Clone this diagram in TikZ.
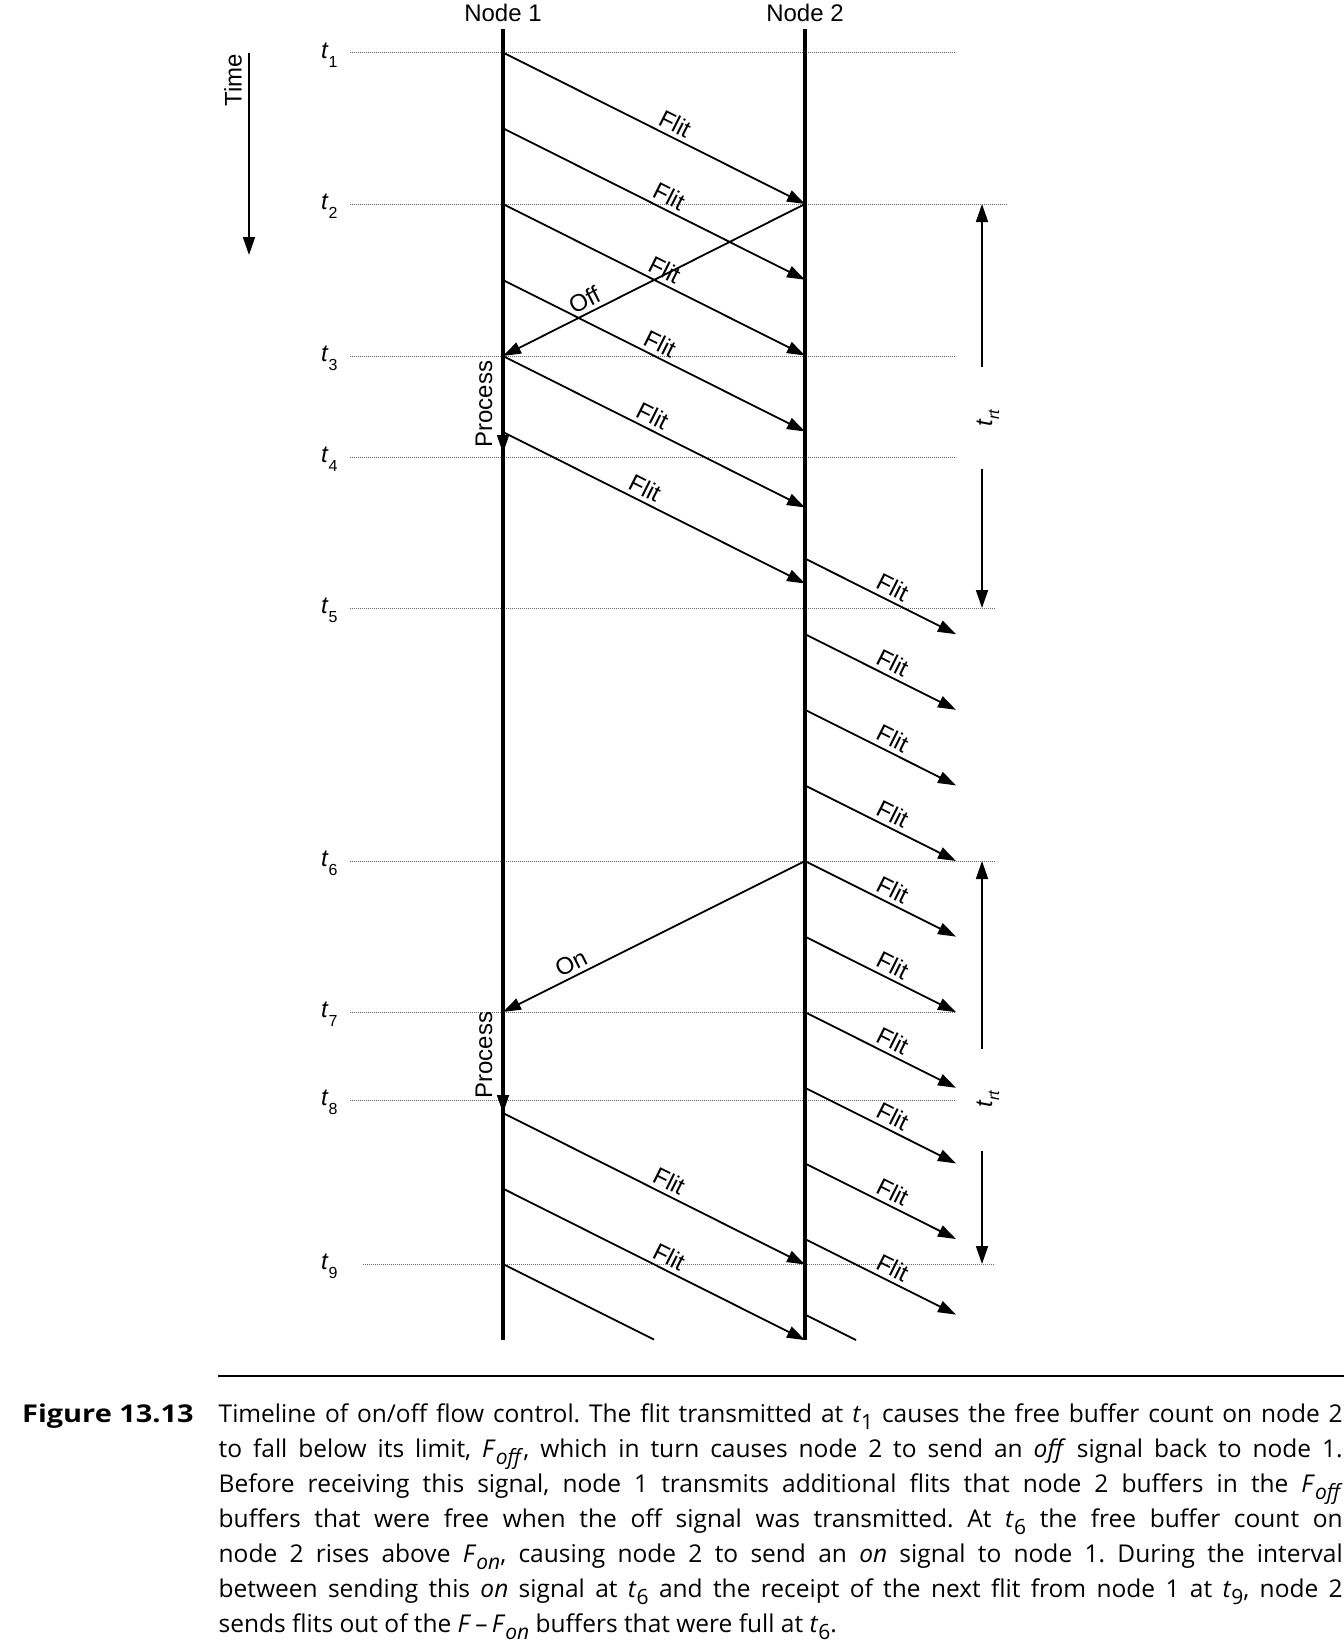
\documentclass[tikz,border=0pt]{standalone}
\usepackage{fontspec}
\setmainfont{Liberation Sans}
\newfontfamily\capfont{Open Sans}
\usepackage{graphicx}
\usetikzlibrary{arrows.meta}
\frenchspacing
\newcommand\tlab[1]{\textit{t}\raisebox{-9pt}{\fontsize{16}{16}\selectfont #1}}
\newcommand\csub[1]{\raisebox{-0.6ex}{\fontsize{21}{21}\selectfont #1}}
\tikzset{
  lbl/.style={font=\fontsize{24}{24}\selectfont, inner sep=2pt},
  nodeline/.style={line width=3.5pt},
  msgline/.style={line width=1.8pt},
  msg/.style={line width=1.8pt, -{Triangle[length=18pt,width=12pt]}},
  tick/.style={black!60, line width=1pt, dash pattern=on 1.2pt off 0.8pt},
  fl/.style={sloped, above, font=\fontsize{24}{24}\selectfont, inner sep=4pt},
  capline/.style={anchor=base west, inner sep=0pt, font=\capfont\fontsize{24.5}{24.5}\selectfont}
}
\begin{document}
\begin{tikzpicture}[x=1pt,y=-1pt]
\useasboundingbox (0,0) rectangle (1344,1647);
% time ticks
\foreach \i/\y/\xa/\xb in {1/52.5/350/956, 2/204/350/1007, 3/356/350/956, 4/457/350/956, 5/608/350/995, 6/861/350/995, 7/1012/350/956, 8/1100/350/956, 9/1264/363/995}{
  \coordinate (ta\i) at (\xa,\y);
  \coordinate (tb\i) at (\xb,\y);
  \draw[tick] (ta\i) -- (tb\i);
  \node[lbl, anchor=base west, inner sep=0pt] (tl\i) at (321,\y+5.5) {\tlab{\i}};
}
% node lines
\node[lbl] (n1lab) at (503,13) {Node 1};
\node[lbl] (n2lab) at (805,13) {Node 2};
\coordinate (n1top) at (503,29); \coordinate (n1bot) at (503,1340);
\coordinate (n2top) at (805,29); \coordinate (n2bot) at (805,1340);
\draw[nodeline] (n1top) -- (n1bot);
\draw[nodeline] (n2top) -- (n2bot);
% time arrow
\node[lbl, rotate=90] (timelab) at (233,80) {Time};
\coordinate (timeA) at (249,53); \coordinate (timeB) at (249,255);
\draw[msg] (timeA) -- (timeB);
% flits node 1 -> node 2
\foreach \k/\ys/\p in {1/52.5/0.55, 2/128.25/0.53, 3/204/0.515, 4/280/0.50, 5/356/0.475, 6/432/0.45, 7/1113/0.53, 8/1188.6/0.53}{
  \coordinate (fa\k) at (503,\ys);
  \coordinate (fb\k) at (805,\ys+151.5);
  \draw[msg] (fa\k) -- node[fl, pos=\p] (flab\k) {Flit} (fb\k);
}
\coordinate (fa9) at (503,1264); \coordinate (fb9) at (654,1339.5);
\draw[msgline] (fa9) -- (fb9);
% flits out of node 2
\foreach \k in {0,...,9}{
  \pgfmathsetmacro\ys{558.6+75.6*\k}
  \coordinate (ga\k) at (805,\ys);
  \coordinate (gb\k) at (956,\ys+75.6);
  \draw[msg] (ga\k) -- node[fl, pos=0.54] (glab\k) {Flit} (gb\k);
}
\coordinate (ga10) at (805,1314.6); \coordinate (gb10) at (856,1340);
\draw[msgline] (ga10) -- (gb10);
% off / on
\coordinate (offA) at (805,204); \coordinate (offB) at (503,356);
\draw[msg] (offA) -- node[fl, pos=0.71] (offlab) {Off} (offB);
\coordinate (onA) at (805,861); \coordinate (onB) at (503,1012);
\draw[msg] (onA) -- node[fl, pos=0.755] (onlab) {On} (onB);
% process
\coordinate (pA1) at (503,356); \coordinate (pB1) at (503,453);
\draw[msg] (pA1) -- (pB1);
\node[lbl, rotate=90] (proc1) at (484,404) {Process};
\coordinate (pA2) at (503,1012); \coordinate (pB2) at (503,1113);
\draw[msg] (pA2) -- (pB2);
\node[lbl, rotate=90] (proc2) at (484,1055) {Process};
% round trip
\coordinate (rA1) at (982,367); \coordinate (rB1) at (982,204);
\coordinate (rC1) at (982,469); \coordinate (rD1) at (982,608);
\draw[msg] (rA1) -- (rB1);
\draw[msg] (rC1) -- (rD1);
\node[lbl, rotate=90] (rt1) at (988,418) {\textit{t}\raisebox{-7pt}{\fontsize{16}{16}\selectfont\textit{rt}}};
\coordinate (rA2) at (982,1049); \coordinate (rB2) at (982,861);
\coordinate (rC2) at (982,1151); \coordinate (rD2) at (982,1264);
\draw[msg] (rA2) -- (rB2);
\draw[msg] (rC2) -- (rD2);
\node[lbl, rotate=90] (rt2) at (988,1099) {\textit{t}\raisebox{-7pt}{\fontsize{16}{16}\selectfont\textit{rt}}};
% caption
\coordinate (ruleA) at (218,1376); \coordinate (ruleB) at (1344,1376);
\draw[line width=1.5pt] (ruleA) -- (ruleB);
\node[capline] (figlab) at (22,1422) {\bfseries\scalebox{1.18}[1]{Figure 13.13}};
\node[capline] (c1) at (218.5,1422) {\makebox[1124pt][s]{Timeline of on/off flow control. The flit transmitted at \textit{t}\csub{1} causes the free buffer count on node 2}};
\node[capline] (c2) at (218.5,1457) {\makebox[1124pt][s]{to fall below its limit, \textit{F}\csub{\textit{off}}, which in turn causes node 2 to send an \textit{off} signal back to node 1.}};
\node[capline] (c3) at (218.5,1492) {\makebox[1124pt][s]{Before receiving this signal, node 1 transmits additional flits that node 2 buffers in the \textit{F}\csub{\textit{off}}}};
\node[capline] (c4) at (218.5,1527) {\makebox[1124pt][s]{buffers that were free when the off signal was transmitted. At \textit{t}\csub{6} the free buffer count on}};
\node[capline] (c5) at (218.5,1562) {\makebox[1124pt][s]{node 2 rises above \textit{F}\csub{\textit{on}}, causing node 2 to send an \textit{on} signal to node 1. During the interval}};
\node[capline] (c6) at (218.5,1597) {\makebox[1124pt][s]{between sending this \textit{on} signal at \textit{t}\csub{6} and the receipt of the next flit from node 1 at \textit{t}\csub{9}, node 2}};
\node[capline] (c7) at (218.5,1632) {sends flits out of the \textit{F}\,\textendash\,\textit{F}\csub{\textit{on}} buffers that were full at \textit{t}\csub{6}.};
\end{tikzpicture}
\end{document}
